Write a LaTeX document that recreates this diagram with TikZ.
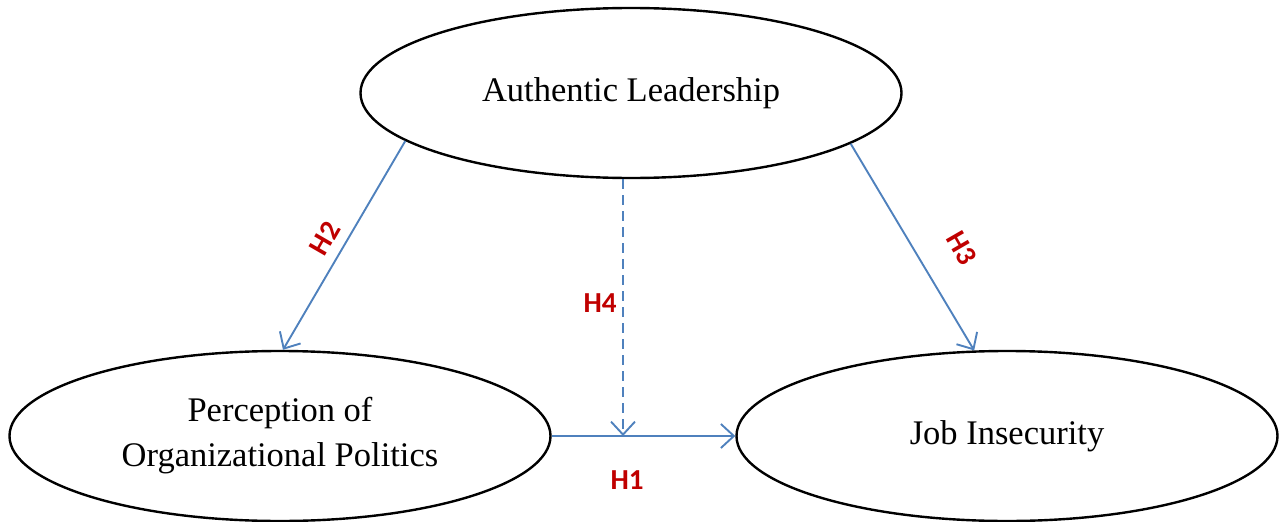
\documentclass[tikz,border=0pt]{standalone}
\usepackage{fontspec}
\setmainfont{Liberation Serif}
\newfontfamily\hfont{Carlito}
\usetikzlibrary{arrows.meta,shapes.geometric}
\definecolor{lineblue}{HTML}{4F81BD}
\definecolor{labred}{HTML}{C00000}
\begin{document}
\begin{tikzpicture}[x=1pt,y=-1pt,
  construct/.style={ellipse,draw=black,line width=2.4pt,minimum width=541pt,minimum height=170pt,inner sep=0pt,align=center,font=\fontsize{34.5}{45}\selectfont},
  link/.style={draw=lineblue,line width=1.9pt,-{Straight Barb[length=13pt,width=24pt,line width=1.9pt]}},
  hyp/.style={text=labred,font=\hfont\bfseries\fontsize{29}{32}\selectfont,inner sep=0pt}]
\useasboundingbox (0,0) rectangle (1286,522);
\node[construct] (top) at (631,93) {Authentic Leadership};
\node[construct] (left) at (280,436) {Perception of\\Organizational Politics};
\node[construct] (right) at (1007,436) {Job Insecurity};
\coordinate (m) at (623,436);
\draw[link] (top.192.4) -- (left.88);
\draw[link] (top.-13) -- (right.111);
\draw[link] (left.east) -- (right.west);
\draw[link,dash pattern=on 10pt off 6pt] (top.south -| m) -- (m);
\node[hyp,rotate=60] (h2) at (325,238) {H2};
\node[hyp,rotate=-60] (h3) at (962,248) {H3};
\node[hyp] (h4) at (600,303) {H4};
\node[hyp] (h1) at (627,480) {H1};
\end{tikzpicture}
\end{document}
